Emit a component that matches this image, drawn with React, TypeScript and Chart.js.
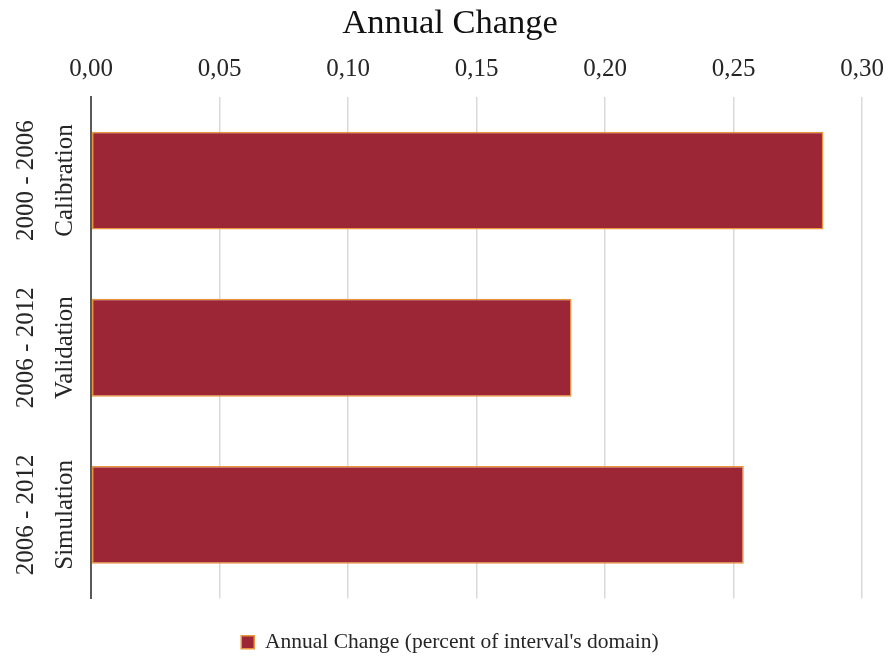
import React, { useEffect, useRef } from "react";
import { Chart, registerables } from "chart.js";

Chart.register(...registerables);

// Study periods and model phases shown on the category axis
const periods = ["2000 - 2006", "2006 - 2012", "2006 - 2012"];
const phases = ["Calibration", "Validation", "Simulation"];

// Annual change, percent of the interval's domain
const annualChange = [0.285, 0.187, 0.254];

// Value axis ticks
const tickMin = 0;
const tickMax = 0.3;
const tickStep = 0.05;

const seriesLabel = "Annual Change (percent of interval's domain)";
const chartTitle = "Annual Change";

const SERIF = "'Liberation Serif', 'Times New Roman', serif";

// Draws the two-line, rotated category labels beside the y axis
const rotatedCategoryLabels = {
  id: "rotatedCategoryLabels",
  afterDraw(chart: any) {
    const { ctx, chartArea } = chart;
    const yScale = chart.scales.y;
    const labels = chart.data.labels as string[][];
    ctx.save();
    ctx.font = `25px ${SERIF}`;
    ctx.fillStyle = "#262626";
    ctx.textAlign = "center";
    ctx.textBaseline = "alphabetic";
    labels.forEach((lines, i) => {
      const y = yScale.getPixelForValue(i);
      const baselines = [chartArea.left - 58, chartArea.left - 19];
      lines.forEach((line, j) => {
        ctx.save();
        ctx.translate(baselines[j], y);
        ctx.rotate(-Math.PI / 2);
        ctx.fillText(line, 0, 0);
        ctx.restore();
      });
    });
    ctx.restore();
  },
};

export default function App() {
  const canvasRef = useRef<HTMLCanvasElement | null>(null);

  useEffect(() => {
    document.body.style.margin = "0";
    const canvas = canvasRef.current;
    if (!canvas) return;

    const chart = new Chart(canvas, {
      type: "bar",
      data: {
        labels: periods.map((p, i) => [p, phases[i]]),
        datasets: [
          {
            label: seriesLabel,
            data: annualChange,
            backgroundColor: "#9c2536",
            borderColor: "#e8963c",
            borderWidth: 1.5,
            borderSkipped: false,
            categoryPercentage: 0.585,
            barPercentage: 1,
          },
        ],
      },
      options: {
        indexAxis: "y",
        responsive: false,
        animation: false,
        devicePixelRatio: 1,
        layout: {
          padding: { left: 38, right: 27, top: 0, bottom: -6 },
        },
        scales: {
          x: {
            position: "top",
            min: tickMin,
            max: tickMax,
            afterFit(scale: any) {
              scale.height = 54.5;
              scale.paddingLeft = 0;
              scale.paddingRight = 0;
            },
            ticks: {
              stepSize: tickStep,
              padding: 13,
              color: "#262626",
              font: { family: SERIF, size: 25 },
              callback: (v: any) => Number(v).toFixed(2).replace(".", ","),
            },
            grid: {
              color: "#d9d9d9",
              lineWidth: 1.5,
              drawTicks: false,
            },
            border: { display: false },
          },
          y: {
            afterFit(scale: any) {
              scale.width = 53;
            },
            ticks: { display: false },
            grid: { display: false },
            border: { display: true, color: "#595959", width: 2 },
          },
        },
        plugins: {
          title: {
            display: true,
            text: chartTitle,
            color: "#111111",
            font: { family: SERIF, size: 34.5, weight: "normal", lineHeight: 1.1 },
            padding: { top: 4.5, bottom: 0 },
          },
          legend: {
            display: true,
            position: "bottom",
            labels: {
              color: "#262626",
              font: { family: SERIF, size: 21.5 },
              boxWidth: 13,
              boxHeight: 13,
              padding: 33,
            },
          },
          tooltip: { enabled: false },
        },
      },
      plugins: [rotatedCategoryLabels],
    });

    return () => chart.destroy();
  }, []);

  return (
    <div style={{ width: 889, height: 657 }}>
      <canvas ref={canvasRef} width={889} height={657} />
    </div>
  );
}
